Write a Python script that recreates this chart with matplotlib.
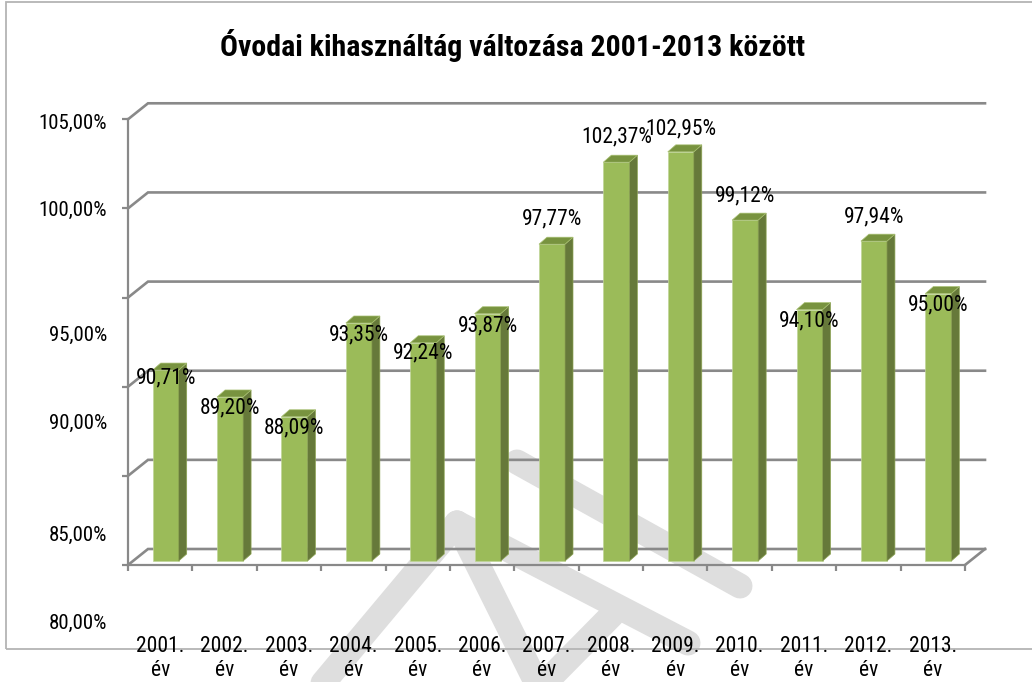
import numpy as np
import matplotlib
matplotlib.use('Agg')
import matplotlib.pyplot as plt
from matplotlib.patches import Polygon, Rectangle
from matplotlib.lines import Line2D

plt.rcParams['font.family'] = ['Roboto Condensed', 'Archivo Narrow', 'DejaVu Sans']

# adatok
evek = ['2001.', '2002.', '2003.', '2004.', '2005.', '2006.', '2007.',
        '2008.', '2009.', '2010.', '2011.', '2012.', '2013.']
kihasznaltsag = [90.71, 89.20, 88.09, 93.35, 92.24, 93.87, 97.77,
                 102.37, 102.95, 99.12, 94.10, 97.94, 95.00]
y_ertekek = [80, 85, 90, 95, 100, 105]
cim = 'Óvodai kihasználtág változása 2001-2013 között'

# Excel a feliratokat furcsan rakta le (pixelben)
cimke_eltolas = [-8, -11, -11, -12, -10, -12, 25, 25, 23, 24, -11, 24, -11]
ycimke_px = [623, 535, 423, 335, 210, 123]

W, H = 1032, 682
fig = plt.figure(figsize=(W / 100, H / 100), dpi=100)
fig.patch.set_facecolor('white')

# vizjel
vizjel = [[(313, 695), (457, 523)], [(457, 523), (545, 700)],
          [(457, 523), (688, 643)], [(612, 615), (540, 688)],
          [(517, 462), (740, 586)]]
for (x1, y1), (x2, y2) in vizjel:
    fig.add_artist(Line2D([x1 / W, x2 / W], [1 - y1 / H, 1 - y2 / H],
                          transform=fig.transFigure, color='#dedede', lw=18,
                          solid_capstyle='round', zorder=-5))

ax = fig.add_axes([128 / W, 1 - 565 / H, 837 / W, 445.7 / H])
ax.set_xlim(0, 13)
ax.set_ylim(80, 105)
ax.patch.set_visible(False)

px_x = 13 / 837.0
px_y = 25 / 445.7

def px(dx, dy):
    return dx * px_x, dy * px_y

racs = '#898989'
wdx, wdy = px(20, 16)
for v in y_ertekek:
    ax.plot([0, wdx, 13 + wdx], [v, v + wdy, v + wdy], color=racs, lw=1.9,
            clip_on=False, zorder=1, solid_joinstyle='miter')
ax.plot([13, 13 + wdx], [80, 80 + wdy], color=racs, lw=1.9, clip_on=False, zorder=1)

for s in ['top', 'right']:
    ax.spines[s].set_visible(False)
for s in ['left', 'bottom']:
    ax.spines[s].set_color(racs)
    ax.spines[s].set_linewidth(1.6)
    ax.spines[s].set_zorder(1)

ax.set_yticks(y_ertekek)
ax.set_yticklabels([])
ax.set_xticks(np.arange(14))
ax.set_xticklabels([])
ax.set_xticks(np.arange(13) + 0.5, minor=True)
ax.set_xticklabels([e + '\név' for e in evek], minor=True)
ax.tick_params(axis='both', which='major', color=racs, width=1.6, length=4.5)
ax.tick_params(axis='x', which='minor', length=0, pad=51, labelsize=15.5)

# oszlopok
bdx, bdy = px(5.5, 4)
ddx, ddy = px(8, 7)
bw = 26 * px_x
xs = np.arange(13) + 0.5 + bdx
ertek = np.array(kihasznaltsag)
ax.bar(xs, ertek - 80, bottom=80 + bdy, width=bw, color='#9bbb59',
       edgecolor='#c0d597', linewidth=0.5, zorder=3, clip_on=False)
for x, v in zip(xs, ertek):
    x0, x1 = x - bw / 2, x + bw / 2
    alap, teto = 80 + bdy, v + bdy
    ax.add_patch(Polygon([(x1, alap), (x1 + ddx, alap + ddy), (x1 + ddx, teto + ddy), (x1, teto)],
                         closed=True, fc='#66793a', ec='#8da453', lw=0.5, zorder=3, clip_on=False))
    ax.add_patch(Polygon([(x0, teto), (x0 + ddx, teto + ddy), (x1 + ddx, teto + ddy), (x1, teto)],
                         closed=True, fc='#78933f', ec='#a8c072', lw=0.5, zorder=3, clip_on=False))

for x, v, d in zip(xs, ertek, cimke_eltolas):
    ax.annotate(('%.2f%%' % v).replace('.', ','), xy=(x, v + bdy), xytext=(0, d * 0.72),
                textcoords='offset points', ha='center', va='center',
                fontsize=15.5, zorder=5, annotation_clip=False)

for v, yp in zip(y_ertekek, ycimke_px):
    fig.text(107 / W, 1 - yp / H, '%d,00%%' % v, ha='right', va='center', fontsize=15)

fig.text(512 / W, 1 - 45 / H, cim, ha='center', va='center', fontsize=21.5, fontweight='bold')

fig.add_artist(Rectangle((6 / W, 1 - 649 / H), 1040 / W, 647 / H, transform=fig.transFigure,
                         fill=False, ec='#b4b4b4', lw=1.3, zorder=-4))

fig.savefig('out.png', dpi=100)
